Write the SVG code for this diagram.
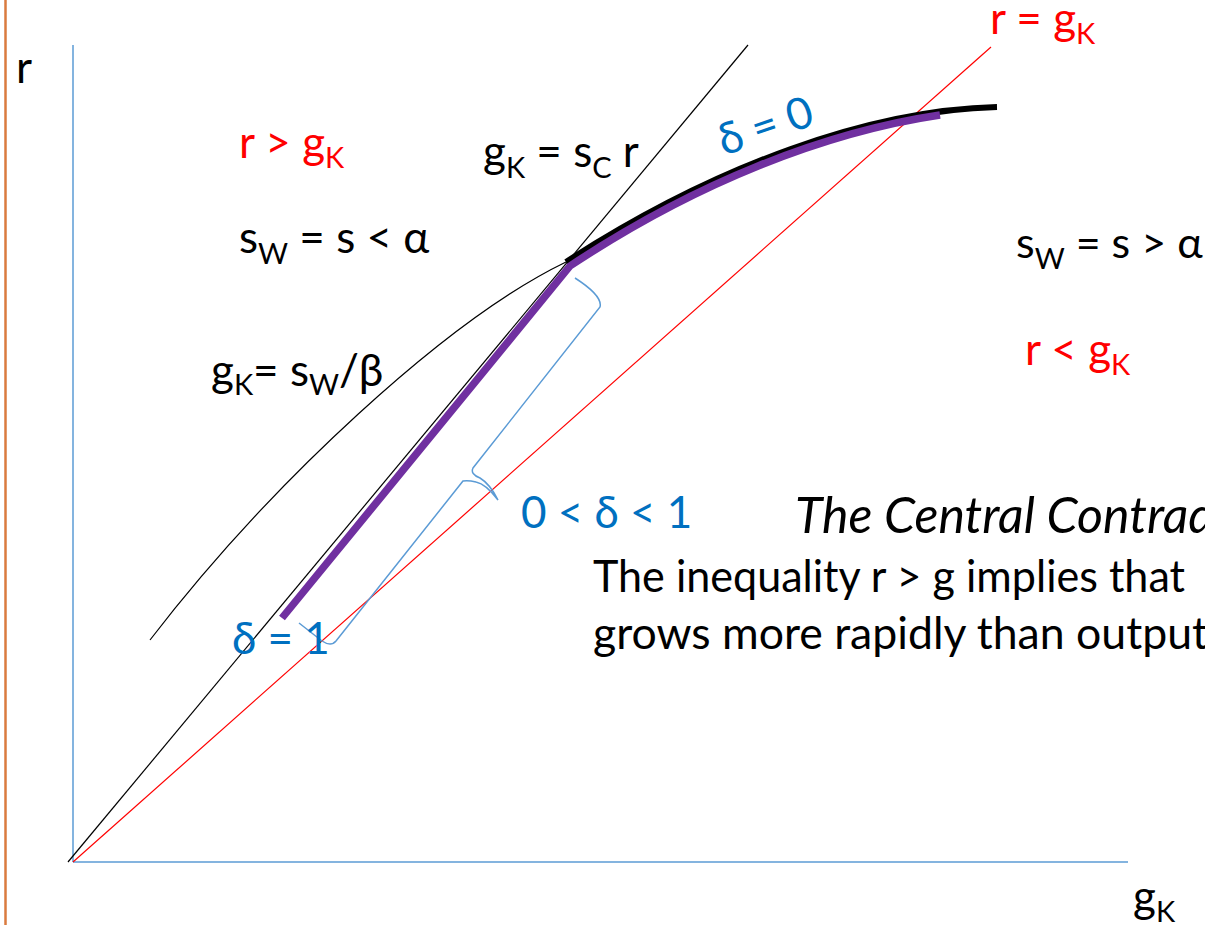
<svg xmlns="http://www.w3.org/2000/svg" width="1205" height="925" viewBox="0 0 1205 925">
<style>
text{font-family:Lato,"Liberation Sans",sans-serif;font-size:44px}
.k{fill:#000}
.red{fill:#FF0000}
.blue{fill:#0070C0}
.sub{font-size:29px}
.axis{stroke:#5B9BD5;stroke-width:1.5;fill:none}
</style>
<rect width="1205" height="925" fill="#fff"/>
<line x1="5.5" y1="0" x2="5.5" y2="925" stroke="#DA7B3F" stroke-width="2.5"/>
<g id="axes">
<line class="axis" x1="73" y1="45" x2="73" y2="862"/>
<line class="axis" x1="73" y1="862" x2="1128" y2="862"/>
</g>
<g id="connectors">
<line x1="68" y1="862" x2="748" y2="45" stroke="#000" stroke-width="1.2"/>
<line x1="73" y1="862" x2="991" y2="47" stroke="#FF0000" stroke-width="1.2"/>
<path d="M150,640 C270,484 446,320 566,262" fill="none" stroke="#000" stroke-width="1.2"/>
<path d="M566,262 C716,165 870,110 997,107" fill="none" stroke="#000" stroke-width="6"/>
<path d="M282,618 L570,266 C695,183 825,132 940,115" fill="none" stroke="#7030A0" stroke-width="7.5" stroke-linejoin="miter"/>
<path d="M575,278 Q603,296 600,307 L473,468 Q470,474 480,478 Q490,484 498,500 Q486,484 476,482 Q468,480 463,481 L336,641 Q331,647 322,641 L299,623" fill="none" stroke="#5B9BD5" stroke-width="1.5"/>
</g>
<g id="labels">
<text x="16" y="83" class="k">r</text>
<text x="990" y="34" class="red">r = g<tspan class="sub" dy="10">K</tspan></text>
<text x="239" y="158" class="red">r &gt; g<tspan class="sub" dy="10">K</tspan></text>
<text x="483" y="167" class="k">g<tspan class="sub" dy="11">K</tspan><tspan dy="-11"> = s</tspan><tspan class="sub" dy="11">C</tspan><tspan dy="-11"> r</tspan></text>
<text x="239" y="253" class="k">s<tspan class="sub" dy="11">W</tspan><tspan dy="-11"> = s &lt; α</tspan></text>
<text x="211" y="386" class="k">g<tspan class="sub" dy="9">K</tspan><tspan dy="-9">= s</tspan><tspan class="sub" dy="9">W</tspan><tspan dy="-9">/β</tspan></text>
<text x="1016" y="258" class="k" style="font-size:43px">s<tspan class="sub" dy="11">W</tspan><tspan dy="-11"> = s &gt; α</tspan></text>
<text x="1025" y="365" class="red">r &lt; g<tspan class="sub" dy="10">K</tspan></text>
<text x="1133" y="912" class="k">g<tspan class="sub" dy="10">K</tspan></text>
<text x="0" y="0" class="blue" transform="translate(724,156) rotate(-19)">δ = 0</text>
<text x="521" y="528" class="blue">0 &lt; δ &lt; 1</text>
<text x="232" y="654" class="blue">δ = 1</text>
<text x="795" y="533" class="k" font-style="italic" style="font-size:50px">The Central Contradiction</text>
<text x="593" y="592" class="k" style="font-size:44px" textLength="592" lengthAdjust="spacingAndGlyphs">The inequality r &gt; g implies that</text>
<text x="593" y="649" class="k" style="font-size:44px" textLength="615" lengthAdjust="spacingAndGlyphs">grows more rapidly than output</text>
</g>
</svg>
